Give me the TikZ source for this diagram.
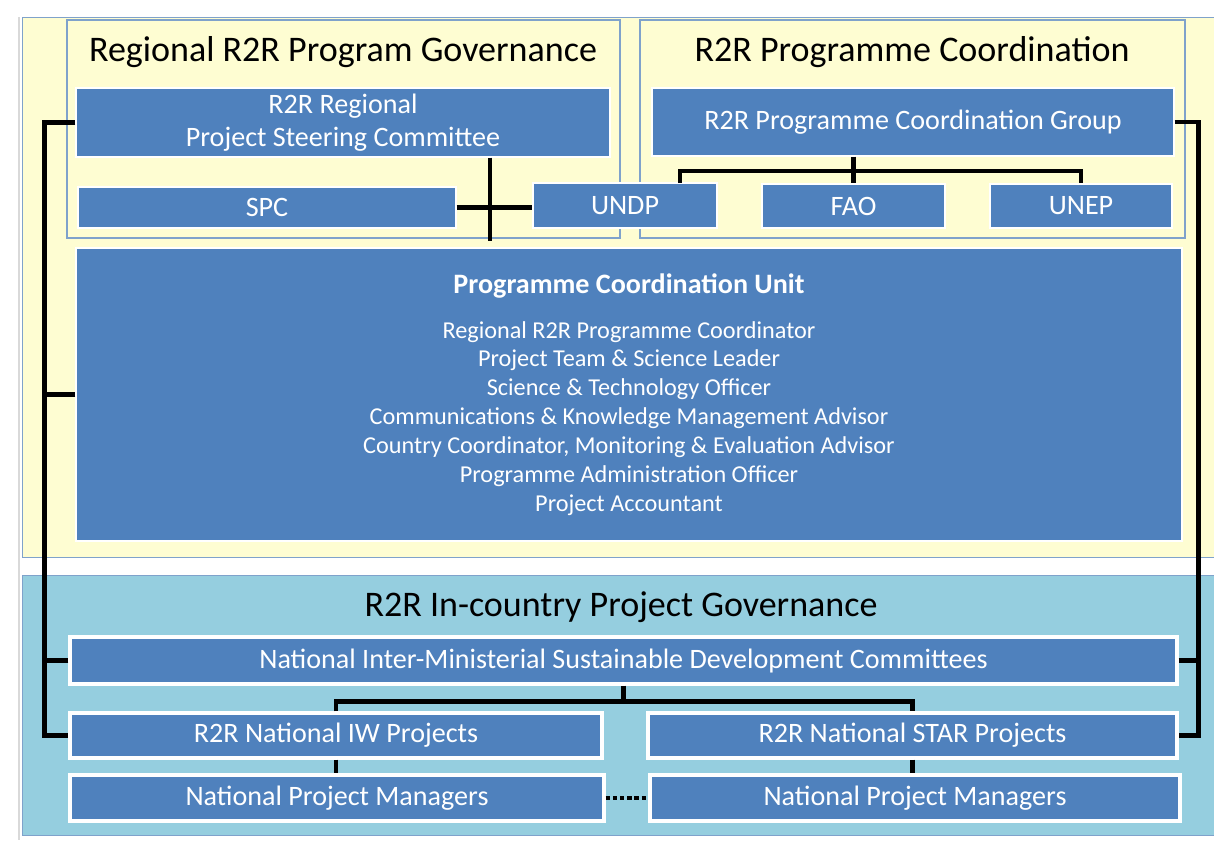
\documentclass[tikz,border=0pt]{standalone}
\usepackage{fontspec}
\setmainfont{Carlito}

\definecolor{unitblue}{HTML}{4F81BD}
\definecolor{paleyellow}{HTML}{FEFDD2}
\definecolor{countryteal}{HTML}{95CEDF}
\definecolor{panelline}{HTML}{7FA2CB}

\tikzset{
  unit/.style={fill=unitblue, draw=white, line width=0.6pt, inner sep=0pt,
    text=white, align=center, font=\fontsize{16}{19}\selectfont},
  natunit/.style={unit, line width=1.8pt},
  unitsize/.style 2 args={minimum width=#1*0.02cm, minimum height=#2*0.02cm},
  link/.style={draw=black, line width=2.6pt},
  paneltitle/.style={text=black, font=\fontsize{20.5}{24}\selectfont}
}

\begin{document}
\begin{tikzpicture}[x=0.02cm, y=-0.02cm]
  \useasboundingbox (0,0) rectangle (1214,845);
  \fill[white] (0,0) rectangle (1214,845);

  % background areas
  \draw[black!15, line width=1.5pt] (19,17) -- (19,840);
  \filldraw[fill=paleyellow, draw=panelline] (22,17) rectangle (1220,557);
  \filldraw[fill=countryteal, draw=panelline] (22,575) rectangle (1220,835);
  \draw[panelline, line width=0.8pt] (67,20) rectangle (620,238);
  \draw[panelline, line width=0.8pt] (640,20) rectangle (1185,238);

  % titles
  \node[paneltitle] (govtitle) at (343,52) {Regional R2R Program Governance};
  \node[paneltitle] (coordtitle) at (912,52) {R2R Programme Coordination};
  \node[paneltitle] (countrytitle) at (621,607) {R2R In-country Project Governance};

  % regional units
  \node[unit, unitsize={534}{69}] (psc) at (343,122.5) {R2R Regional\\Project Steering Committee};
  \node[unit, unitsize={522}{68}] (pcg) at (913,122) {R2R Programme Coordination Group};
  \node[unit, unitsize={378}{41}] (spc) at (267,207.5) {SPC};
  \node[unit, unitsize={184}{45}] (undp) at (625,205.5) {UNDP};
  \node[unit, unitsize={183}{44}] (fao) at (853.5,206) {FAO};
  \node[unit, unitsize={182}{44}] (unep) at (1081,206) {UNEP};
  \node[unit, unitsize={1106}{293}, font=\fontsize{13.8}{16.4}\selectfont] (pcu) at (629,394.5)
    {{\fontsize{16}{19}\selectfont\bfseries Programme Coordination Unit}\\[9pt]
     Regional R2R Programme Coordinator\\
     Project Team \& Science Leader\\
     Science \& Technology Officer\\
     Communications \& Knowledge Management Advisor\\
     Country Coordinator, Monitoring \& Evaluation Advisor\\
     Programme Administration Officer\\
     Project Accountant};

  % national units
  \node[natunit, unitsize={1107}{47}] (nimsdc) at (623.5,660.5) {National Inter-Ministerial Sustainable Development Committees};
  \node[natunit, unitsize={532}{45}] (iw) at (336,735.5) {R2R National IW Projects};
  \node[natunit, unitsize={529}{45}] (star) at (912.5,735.5) {R2R National STAR Projects};
  \node[natunit, unitsize={534}{46}] (npmiw) at (337,798) {National Project Managers};
  \node[natunit, unitsize={530}{46}] (npmstar) at (915,798) {National Project Managers};

  % connectors
  \coordinate (pscdrop) at (490,241);
  \coordinate (undptap) at (680,183);
  \coordinate (agencybus) at (0,171);
  \draw[link] (psc.south -| pscdrop) -- (pscdrop);
  \draw[link] (spc.east) -- (spc.east -| undp.west);
  \draw[link] (fao.north |- pcg.south) -- (fao.north);
  \draw[link] (undptap) |- (agencybus -| unep.north) -- (unep.north);

  \draw[link] (psc.west) -- ++(-31,0) |- (iw.west);
  \draw[link] (pcu.west) -- ++(-31,0);
  \draw[link] (nimsdc.west) -- ++(-25,0);
  \draw[link] (pcg.east) -- ++(24,0) |- (star.east);
  \draw[link] (nimsdc.east) -- ++(21,0);

  \draw[link] (nimsdc.south) -- ++(0,16) coordinate (natbus);
  \draw[link] (iw.north) |- (natbus) -| (star.north);
  \draw[link] (iw.south) -- (iw.south |- npmiw.north);
  \draw[link] (star.south) -- (star.south |- npmstar.north);
  \draw[link, dash pattern=on 2.5pt off 1.6pt] (npmiw.east) -- (npmstar.west);
\end{tikzpicture}
\end{document}
